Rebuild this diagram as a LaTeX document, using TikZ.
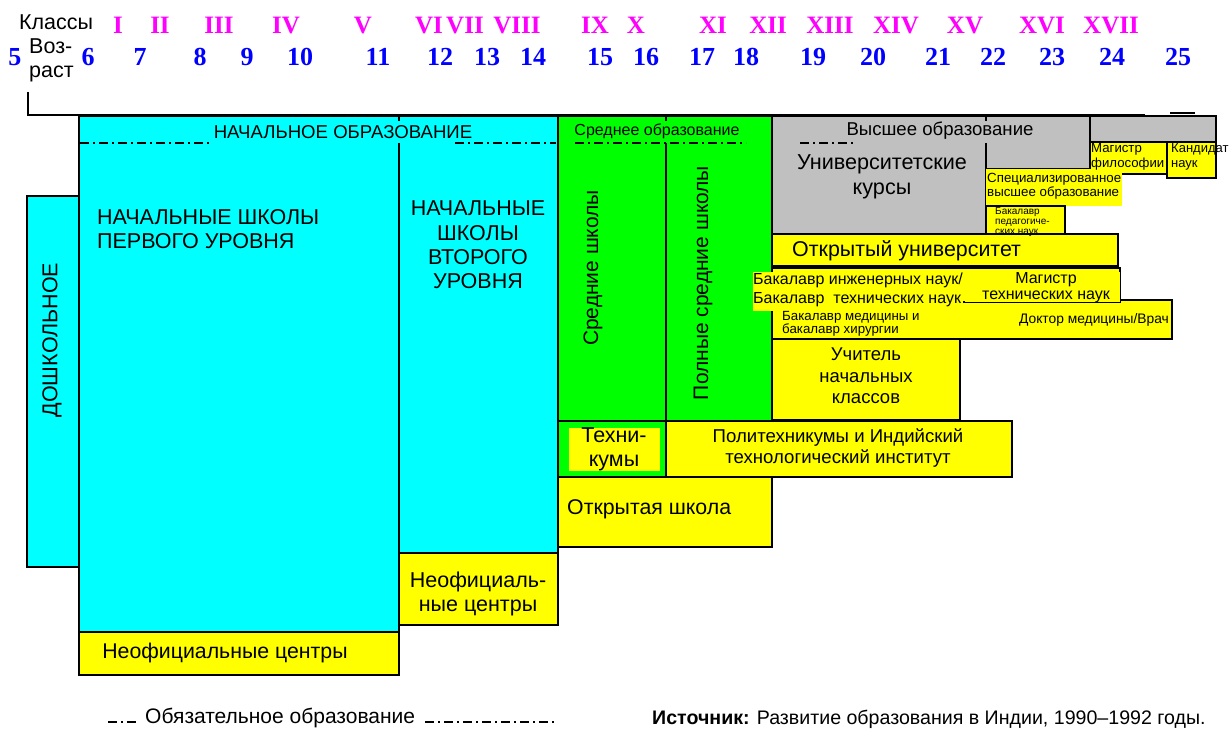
\documentclass[tikz,border=0pt]{standalone}
\usepackage{fontspec}
\setmainfont{Liberation Sans}
\newfontfamily\numfont{Liberation Serif}
\definecolor{cy}{RGB}{0,255,255}
\definecolor{gr}{RGB}{0,255,0}
\definecolor{yl}{RGB}{255,255,0}
\definecolor{gy}{RGB}{192,192,192}
\definecolor{mg}{RGB}{255,0,255}
\definecolor{bl}{RGB}{0,0,255}
\newcommand\fs[2]{\fontsize{#1}{#2}\selectfont}
\tikzset{
  bord/.style={draw=black, line width=1.6pt},
  ybox/.style={fill=yl, draw=black, line width=1.6pt},
  ybg/.style={fill=yl, draw=none},
  txt/.style={inner sep=0pt, text=black},
  rom/.style={inner sep=0pt, anchor=base, text=mg, font=\numfont\bfseries\fs{25}{25}},
  num/.style={inner sep=0pt, anchor=base, text=bl, font=\numfont\bfseries\fs{26}{26}},
  compline/.style={line width=1.5pt, dash pattern=on 9pt off 4pt on 2pt off 4pt},
}
\begin{document}
\begin{tikzpicture}[x=1pt,y=-1pt]
\useasboundingbox (0,0) rectangle (1232,733);
% header
\node[txt, font=\fs{21.5}{24}] (klassy) at (56,22) {Классы};
\node[txt, font=\fs{21.5}{24}, align=left, anchor=north west] (vozrast) at (29,39) {Воз-\\раст};
\foreach \x/\t in {118/I,160/II,219/III,286/IV,363/V,429/VI,465/VII,517/VIII,595/IX,636/X,713/XI,768/XII,830/XIII,896/XIV,965/XV,1042/XVI,1111/XVII}
  \node[rom] (r\t) at (\x,34) {\t};
\foreach \x/\t in {15/5,88/6,140/7,200/8,247/9,300/10,378/11,440/12,487/13,533/14,600/15,646/16,702/17,746/18,813/19,873/20,938/21,993/22,1052/23,1112/24,1178/25}
  \node[num] (n\t) at (\x,66) {\t};
% bracket
\draw[line width=2.2pt] (28,92) -- (28,115) -- (1145,115);
\draw[line width=2.2pt] (1170,113) -- (1195,113);
% preschool
\draw[bord, fill=cy] (27,196) rectangle (79,567);
% primary
\draw[bord, fill=cy] (79,116) -- (558,116) -- (558,553) -- (399,553) -- (399,632) -- (79,632) -- cycle;
\draw[bord] (399,143) -- (399,553);
\draw[bord] (399,116) -- (399,121);
% secondary
\draw[bord, fill=gr] (558,116) -- (772,116) -- (772,421) -- (666,421) -- (666,477) -- (558,477) -- cycle;
\draw[bord] (666,143) -- (666,477);
\draw[bord] (666,116) -- (666,121);
\draw[bord] (558,421) -- (666,421);
\fill[yl] (569,428) rectangle (660,471);
% higher
\draw[bord, fill=gy] (772,116) -- (1090,116) -- (1090,169) -- (986,169) -- (986,234) -- (772,234) -- cycle;
\draw[bord] (986,143) -- (986,169);
\draw[bord] (986,116) -- (986,121);
\draw[bord, fill=gy] (1090,116) rectangle (1216,142);
\draw[ybox] (1090,142) rectangle (1167,174);
\draw[ybox] (1167,142) rectangle (1216,178);
\fill[ybg] (986,169) rectangle (1122,206);
\draw[ybox] (986,206) rectangle (1065,234);
\fill[ybg] (993,208) rectangle (1062,236);
\draw[ybox] (772,234) rectangle (1118,266);
\draw[ybox] (772,300) rectangle (1172,339);
\draw[ybox] (772,268) rectangle (1120,302);
\fill[ybg] (753,272) rectangle (963,311);
\fill[ybg] (965,272) rectangle (1120,302);
\fill[ybg] (776,311) rectangle (922,340);
\draw[ybox] (772,339) rectangle (960,420);
\draw[ybox] (666,421) rectangle (1012,477);
\draw[ybox] (558,477) rectangle (772,547);
\draw[ybox] (399,553) rectangle (558,625);
\draw[ybox] (79,632) rectangle (399,675);
% compulsory lines
\draw[compline] (80,143) -- (212,143);
\draw[compline] (455,143) -- (556,143);
\draw[compline] (575,143) -- (746,143);
\draw[compline] (800,143) -- (856,143);
% texts
\node[txt, rotate=90, font=\fs{21.5}{24}] (dosh) at (52,340) {ДОШКОЛЬНОЕ};
\node[txt, font=\fs{18.6}{20}] (nachobr) at (343,132) {НАЧАЛЬНОЕ ОБРАЗОВАНИЕ};
\node[txt, font=\fs{21.5}{24}, align=left, anchor=north west] (ns1) at (97,209) {НАЧАЛЬНЫЕ ШКОЛЫ\\ПЕРВОГО УРОВНЯ};
\node[txt, font=\fs{21.5}{24.3}, align=center] (ns2) at (478,245) {НАЧАЛЬНЫЕ\\ШКОЛЫ\\ВТОРОГО\\УРОВНЯ};
\node[txt, font=\fs{16}{18}] (sredobr) at (657,131) {Среднее образование};
\node[txt, rotate=90, font=\fs{21}{23}] (sredsh) at (593,268) {Средние школы};
\node[txt, rotate=90, font=\fs{21}{23}] (polnsh) at (703,283) {Полные средние школы};
\node[txt, font=\fs{21.5}{24}, align=center] (tehn) at (614,449) {Техни-\\кумы};
\node[txt, font=\fs{18.6}{21}, align=center] (polit) at (838,448) {Политехникумы и Индийский\\технологический институт};
\node[txt, font=\fs{21.3}{23}, anchor=west] (otkrsh) at (567,509) {Открытая школа};
\node[txt, font=\fs{21.5}{24}, align=center] (neof2) at (478,594) {Неофициаль-\\ные центры};
\node[txt, font=\fs{21.3}{23}] (neof1) at (225,653) {Неофициальные центры};
\node[txt, font=\fs{18.6}{20}] (vysh) at (940,131) {Высшее образование};
\node[txt, font=\fs{21.6}{25}, align=center] (univ) at (882,177) {Университетские\\курсы};
\node[txt, font=\fs{13.2}{15}, align=left, anchor=north west] (magfil) at (1091,143) {Магистр\\философии};
\node[txt, font=\fs{13}{15}, align=left, anchor=north west] (kand) at (1171,143) {Кандидат\\наук};
\node[txt, font=\fs{13.3}{14.5}, align=left, anchor=north west] (spec) at (987,173) {Специализированное\\высшее образование};
\node[txt, font=\fs{10}{10}, align=left, anchor=north west] (bped) at (995,207) {Бакалавр\\педагогиче-\\ских наук};
\node[txt, font=\fs{21.4}{23}, anchor=west] (otkrun) at (792,251) {Открытый университет};
\node[txt, font=\fs{16}{19}, align=left, anchor=north west] (binzh) at (753,273) {Бакалавр инженерных наук/\\Бакалавр\ \ технических наук};
\node[txt, font=\fs{16}{16}, align=center] (magteh) at (1046,288) {Магистр\\технических наук};
\node[txt, font=\fs{13.3}{13.5}, align=left, anchor=north west] (bmed) at (782,311) {Бакалавр медицины и\\бакалавр хирургии};
\node[txt, font=\fs{13.8}{15}] (dokt) at (1094,320) {Доктор медицины/Врач};
\node[txt, font=\fs{18.5}{21.5}, align=center] (uchit) at (866,376) {Учитель\\начальных\\классов};
% legend
\draw[compline] (108,722) -- (137,722);
\node[txt, font=\fs{21}{23}, anchor=west] (obyaz) at (145,718) {Обязательное образование};
\draw[compline] (425,722) -- (556,722);
\node[txt, font=\fs{19.6}{21}, anchor=west] (istoch) at (652,719) {\textbf{Источник:} Развитие образования в Индии, 1990–1992 годы.};
\end{tikzpicture}
\end{document}
